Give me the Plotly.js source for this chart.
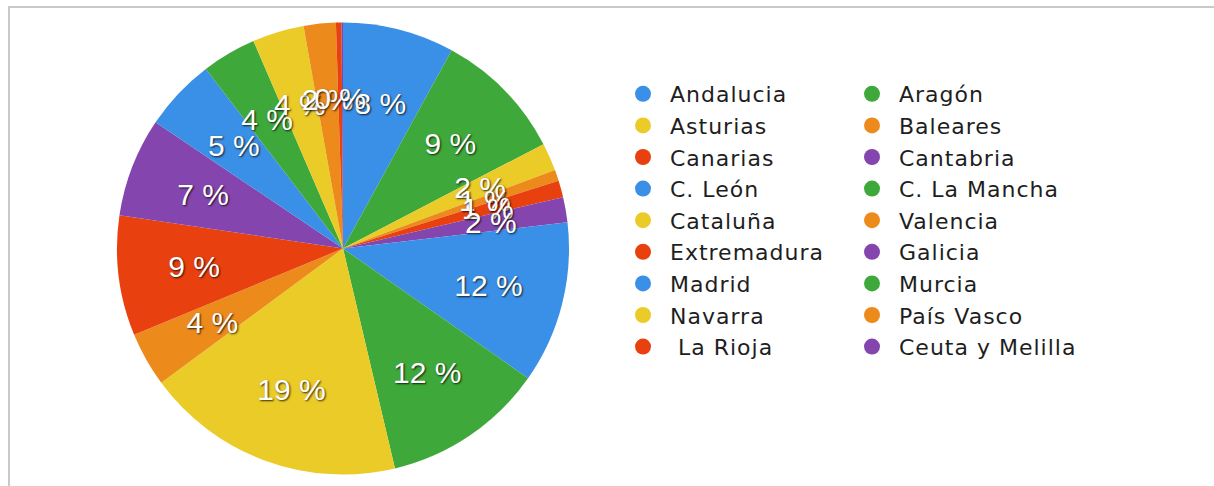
<!DOCTYPE html>
<html>
<head>
<meta charset="utf-8">
<script src="https://cdn.plot.ly/plotly-3.0.1.min.js"></script>
<style>
  html, body { margin: 0; padding: 0; background: #ffffff; }
  #wrap { position: relative; width: 1214px; height: 486px; overflow: hidden; }
  #frame { position: absolute; left: 8px; top: 6px; width: 1300px; height: 600px;
           border-top: 2px solid #c9c9c9; border-left: 2px solid #c9c9c9; }
  #chart { position: absolute; left: 0; top: 0; width: 1214px; height: 486px; }
  #chart .legendtext { letter-spacing: 1px; }
  #chart .legend .scrollbox { clip-path: none !important; }
</style>
</head>
<body>
<div id="wrap">
  <div id="frame"></div>
  <div id="chart"></div>
</div>
<script>
// Regions (legend / slice order, clockwise from 12 o'clock)
const regions = [
  "Andalucia", "Aragón", "Asturias", "Baleares", "Canarias", "Cantabria",
  "C. León", "C. La Mancha", "Cataluña", "Valencia", "Extremadura", "Galicia",
  "Madrid", "Murcia", "Navarra", "País Vasco", " La Rioja", "Ceuta y Melilla"
];
// Share of the total (%)
const shares = [
  8.0, 9.4, 2.0, 0.8, 1.2, 1.8,
  11.6, 11.6, 18.6, 3.9, 8.6, 7.1,
  5.2, 3.9, 3.7, 2.3, 0.4, 0.1
];
// Slice colours
const colors = [
  "#3a8fe6", "#3fa83a", "#ebcb28", "#ec8a1c", "#e8410f", "#8446ae",
  "#3a8fe6", "#3fa83a", "#ebcb28", "#ec8a1c", "#e8410f", "#8446ae",
  "#3a8fe6", "#3fa83a", "#ebcb28", "#ec8a1c", "#e8410f", "#8446ae"
];

const total = shares.reduce((a, b) => a + b, 0);
// percent labels; the almost-empty last slice carries no visible label
const pctText = shares.map(v => (v >= 0.25 ? Math.round(v / total * 100) + " %" : ""));

// ---- geometry / style (not data) ----
const W = 1214, H = 486;
const M = { l: 0, r: 600, t: 0, b: 0 };
const gw = W - M.l - M.r, gh = H - M.t - M.b;
const CX = 343, CY = 248.5, R = 226;   // pie centre and radius, px
const LABEL_R = 150;                   // radius at which the % labels sit, px

function domainFor(r) {
  return { x: [(CX - r) / gw, (CX + r) / gw], y: [1 - (CY + r) / gh, 1 - (CY - r) / gh] };
}

const labelFont = {
  family: "Liberation Sans, Arial, sans-serif", size: 30, color: "#ffffff",
  shadow: "1px 1px 2px rgba(0,0,0,0.8)"
};

const common = {
  type: "pie",
  labels: regions,
  values: shares,
  sort: false,
  direction: "clockwise",
  rotation: 0
};

// main pie (slices + legend)
const traces = [Object.assign({}, common, {
  textinfo: "none",
  marker: { colors: colors, line: { width: 0 } },
  hoverinfo: "label+percent",
  domain: domainFor(R)
})];

// transparent overlays that carry one label each, so every label sits at the same radius
shares.forEach((v, i) => {
  if (!pctText[i]) return;
  const s = Math.sin(Math.PI * v / total);
  const rCenter = 1 - s / (1 + s);
  const txt = shares.map((_, j) => (j === i ? pctText[j] : ""));
  traces.push(Object.assign({}, common, {
    text: txt,
    textinfo: "text",
    textposition: "inside",
    insidetextorientation: "horizontal",
    insidetextfont: labelFont,
    marker: { colors: shares.map(() => "rgba(0,0,0,0)"), line: { width: 0 } },
    hoverinfo: "skip",
    showlegend: false,
    domain: domainFor(LABEL_R / rCenter)
  }));
});

const layout = {
  width: W, height: H,
  margin: M,
  paper_bgcolor: "rgba(0,0,0,0)",
  plot_bgcolor: "rgba(0,0,0,0)",
  showlegend: true,
  uniformtext: { mode: "show", minsize: 30 },
  legend: {
    orientation: "h",
    x: 616 / gw, xanchor: "left",
    y: 1 - 73 / gh, yanchor: "top",
    itemwidth: 44,
    entrywidth: 170,
    entrywidthmode: "pixels",
    maxheight: 420,
    traceorder: "normal",
    font: { family: "DejaVu Sans, Arial, sans-serif", size: 22, color: "#1e1e1e" },
    bgcolor: "rgba(0,0,0,0)"
  }
};

Plotly.newPlot("chart", traces, layout, { displayModeBar: false, staticPlot: true }).then(gd => {
  // round legend markers like the reference
  gd.querySelectorAll(".legendpie").forEach(p => {
    p.setAttribute("d", "M8,0A8,8 0 1,1 0,-8A8,8 0 0,1 8,0Z");
  });
});
</script>
</body>
</html>
